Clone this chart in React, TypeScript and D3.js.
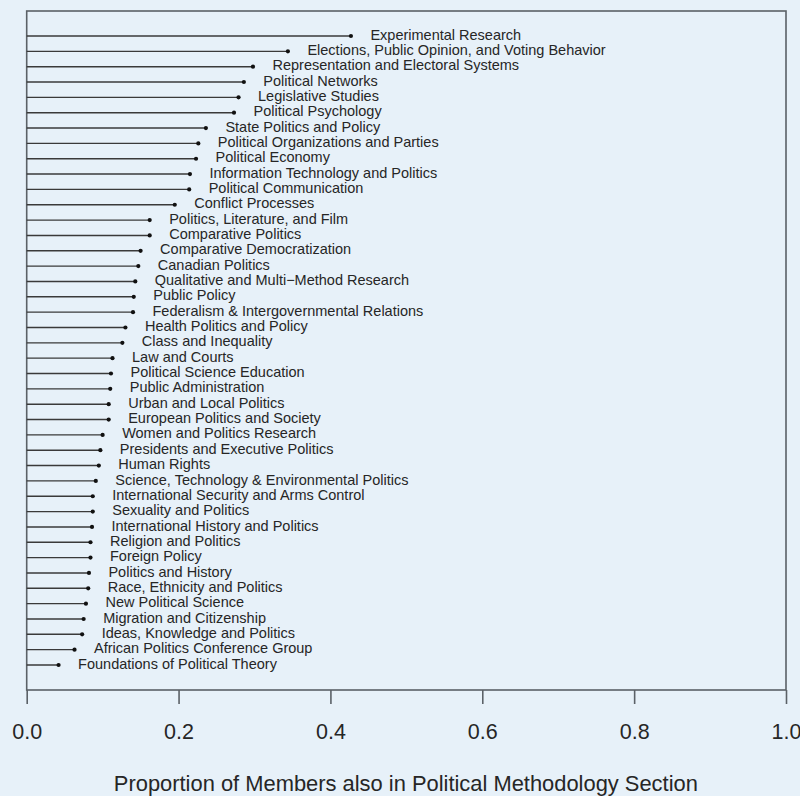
import * as d3 from 'd3';
import React, { useEffect, useRef } from 'react';

const sections = [
  'Experimental Research',
  'Elections, Public Opinion, and Voting Behavior',
  'Representation and Electoral Systems',
  'Political Networks',
  'Legislative Studies',
  'Political Psychology',
  'State Politics and Policy',
  'Political Organizations and Parties',
  'Political Economy',
  'Information Technology and Politics',
  'Political Communication',
  'Conflict Processes',
  'Politics, Literature, and Film',
  'Comparative Politics',
  'Comparative Democratization',
  'Canadian Politics',
  'Qualitative and Multi\u2212Method Research',
  'Public Policy',
  'Federalism & Intergovernmental Relations',
  'Health Politics and Policy',
  'Class and Inequality',
  'Law and Courts',
  'Political Science Education',
  'Public Administration',
  'Urban and Local Politics',
  'European Politics and Society',
  'Women and Politics Research',
  'Presidents and Executive Politics',
  'Human Rights',
  'Science, Technology & Environmental Politics',
  'International Security and Arms Control',
  'Sexuality and Politics',
  'International History and Politics',
  'Religion and Politics',
  'Foreign Policy',
  'Politics and History',
  'Race, Ethnicity and Politics',
  'New Political Science',
  'Migration and Citizenship',
  'Ideas, Knowledge and Politics',
  'African Politics Conference Group',
  'Foundations of Political Theory',
];

const proportions = [
  0.427, 0.344, 0.298, 0.286, 0.279, 0.273, 0.236, 0.226, 0.223, 0.215, 0.214,
  0.195, 0.162, 0.162, 0.15, 0.147, 0.143, 0.141, 0.14, 0.13, 0.126, 0.113,
  0.111, 0.11, 0.108, 0.108, 0.1, 0.097, 0.095, 0.091, 0.087, 0.087, 0.086,
  0.084, 0.084, 0.082, 0.081, 0.078, 0.075, 0.073, 0.063, 0.042,
];

const xTicks = [0, 0.2, 0.4, 0.6, 0.8, 1.0];

const width = 800;
const height = 796;
const bg = '#e7f1f9';
const ink = '#262626';
const frame = '#5b6167';
const font = 'Liberation Sans, Arial, sans-serif';

const App = () => {
  const svgRef = useRef(null);

  useEffect(() => {
    const svg = d3.select(svgRef.current);
    svg.selectAll('*').remove();

    const left = 26.7;
    const right = 786;
    const top = 11;
    const bottom = 690;

    const xScale = d3.scaleLinear().domain([0, 1]).range([left, right]);
    const yScale = d3.scalePoint().domain(sections).range([36, 665]);

    svg.append('rect').attr('width', width).attr('height', height).attr('fill', bg);

    // plot frame
    svg
      .append('rect')
      .attr('x', left)
      .attr('y', top)
      .attr('width', right - left)
      .attr('height', bottom - top)
      .attr('fill', 'none')
      .attr('stroke', frame)
      .attr('stroke-width', 1.6);

    const axis = svg
      .append('g')
      .attr('transform', 'translate(0,' + bottom + ')')
      .call(
        d3
          .axisBottom(xScale)
          .tickValues(xTicks)
          .tickSize(14)
          .tickPadding(20)
          .tickFormat(d3.format('.1f'))
      );
    axis.select('.domain').remove();
    axis.selectAll('line').attr('stroke', frame).attr('stroke-width', 1.6);
    axis
      .selectAll('text')
      .attr('fill', ink)
      .style('font-family', font)
      .style('font-size', '21.5px');

    const rows = svg
      .append('g')
      .selectAll('g')
      .data(sections)
      .enter()
      .append('g');

    rows
      .append('line')
      .attr('x1', left)
      .attr('x2', (d, i) => xScale(proportions[i]))
      .attr('y1', (d) => yScale(d))
      .attr('y2', (d) => yScale(d))
      .attr('stroke', '#3a3a3a')
      .attr('stroke-width', 1.4);

    rows
      .append('circle')
      .attr('cx', (d, i) => xScale(proportions[i]))
      .attr('cy', (d) => yScale(d))
      .attr('r', 2.1)
      .attr('fill', '#111');

    rows
      .append('text')
      .attr('x', (d, i) => xScale(proportions[i]) + 19.5)
      .attr('y', (d) => yScale(d) + 3.6)
      .attr('fill', ink)
      .style('font-family', font)
      .style('font-size', '14.5px')
      .text((d) => d);

    svg
      .append('text')
      .attr('x', (left + right) / 2 - 0.5)
      .attr('y', 791)
      .attr('text-anchor', 'middle')
      .attr('fill', ink)
      .style('font-family', font)
      .style('font-size', '21.9px')
      .text('Proportion of Members also in Political Methodology Section');
  }, []);

  return (
    <div style={{ position: 'fixed', left: 0, top: 0, width, height, background: bg }}>
      <svg ref={svgRef} width={width} height={height} style={{ display: 'block' }} />
    </div>
  );
};

export default App;
